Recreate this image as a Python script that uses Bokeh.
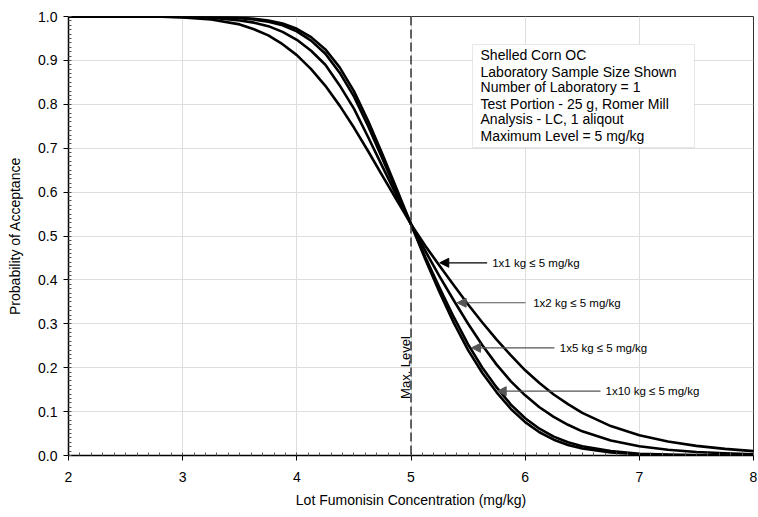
from bokeh.plotting import figure
from bokeh.models import (FixedTicker, Span, Label, BoxAnnotation, Arrow, NormalHead,
                          CustomJSTickFormatter)
from bokeh.embed import file_html
from bokeh.resources import INLINE
import math

# ---- data ----
lot_conc = [2.0, 2.5, 2.75, 3.0, 3.25, 3.5, 3.625, 3.75, 3.875, 4.0, 4.125, 4.25,
            4.375, 4.5, 4.625, 4.75, 4.875, 5.0, 5.125, 5.25, 5.375, 5.5, 5.625,
            5.75, 5.875, 6.0, 6.125, 6.25, 6.375, 6.5, 6.75, 7.0, 7.25, 7.5, 7.75, 8.0]
pa_1x1 = [1.0, 1.0, 1.0, 0.998, 0.993, 0.982, 0.971, 0.957, 0.937, 0.912, 0.880, 0.842,
          0.797, 0.747, 0.693, 0.637, 0.582, 0.527, 0.478, 0.432, 0.388, 0.344, 0.303,
          0.264, 0.228, 0.194, 0.165, 0.139, 0.117, 0.097, 0.067, 0.046, 0.032, 0.022,
          0.015, 0.010]
pa_1x2 = [1.0, 1.0, 1.0, 0.999, 0.997, 0.991, 0.986, 0.978, 0.965, 0.947, 0.922, 0.890,
          0.843, 0.790, 0.725, 0.658, 0.592, 0.527, 0.466, 0.408, 0.353, 0.300, 0.251,
          0.207, 0.169, 0.137, 0.110, 0.088, 0.070, 0.055, 0.034, 0.021, 0.013, 0.008,
          0.005, 0.003]
pa_1x5 = [1.0, 1.0, 1.0, 1.0, 0.999, 0.996, 0.993, 0.988, 0.980, 0.966, 0.945, 0.915,
          0.872, 0.818, 0.750, 0.676, 0.601, 0.527, 0.452, 0.382, 0.315, 0.253, 0.200,
          0.155, 0.116, 0.085, 0.061, 0.043, 0.030, 0.021, 0.010, 0.004, 0.002, 0.001,
          0.0, 0.0]
pa_1x10 = [1.0, 1.0, 1.0, 1.0, 1.0, 0.997, 0.995, 0.991, 0.984, 0.972, 0.953, 0.925,
           0.884, 0.830, 0.762, 0.686, 0.607, 0.527, 0.447, 0.372, 0.302, 0.240, 0.188,
           0.144, 0.106, 0.076, 0.053, 0.036, 0.024, 0.016, 0.007, 0.003, 0.001, 0.0005,
           0.0, 0.0]

x_ticks = [2, 3, 4, 5, 6, 7, 8]
y_ticks = [0.0, 0.1, 0.2, 0.3, 0.4, 0.5, 0.6, 0.7, 0.8, 0.9, 1.0]
max_level = 5

curve_labels = ["1x1 kg \u2264 5 mg/kg", "1x2 kg \u2264 5 mg/kg",
                "1x5 kg \u2264 5 mg/kg", "1x10 kg \u2264 5 mg/kg"]
info_lines = ["Shelled Corn OC", "Laboratory Sample Size Shown",
              "Number of Laboratory = 1", "Test Portion - 25 g, Romer Mill",
              "Analysis - LC, 1 aliqout", "Maximum Level = 5 mg/kg"]

# ---- annotation placement (styling) ----
arrow_tip_x = [5.252, 5.404, 5.530, 5.755]
arrow_tail_x = [5.667, 6.003, 6.257, 6.660]
arrow_y = [0.439, 0.348, 0.2453, 0.1465]
label_x = [5.711, 6.070, 6.303, 6.704]
arrow_colors = ["black", "#555555", "#555555", "#555555"]

FONT = "Liberation Sans"

p = figure(width=758, height=517, x_range=(2, 8), y_range=(0, 1),
           output_backend="svg", toolbar_location=None,
           min_border_left=68, min_border_right=5, min_border_top=16,
           min_border_bottom=62)

p.background_fill_color = "white"
p.border_fill_color = "white"
p.outline_line_color = "#333333"
p.outline_line_width = 1

# grid
p.xgrid.grid_line_color = "#dedede"
p.ygrid.grid_line_color = "#dedede"
p.xgrid.ticker = FixedTicker(ticks=x_ticks)
p.ygrid.ticker = FixedTicker(ticks=y_ticks)

# axes
xminor = [2 + i * 0.1 for i in range(61)]
yminor = [i * 0.01 for i in range(101)]
p.xaxis.ticker = FixedTicker(ticks=x_ticks, minor_ticks=xminor)
p.yaxis.ticker = FixedTicker(ticks=y_ticks, minor_ticks=yminor)
p.yaxis.formatter = CustomJSTickFormatter(code="return tick.toFixed(1);")

for ax in (p.xaxis, p.yaxis):
    ax.axis_line_color = "black"
    ax.axis_line_width = 1.5
    ax.major_tick_in = 0
    ax.major_tick_out = 5
    ax.major_tick_line_color = "black"
    ax.minor_tick_in = 3
    ax.minor_tick_out = 0
    ax.minor_tick_line_color = "#555555"
    ax.major_label_text_font = FONT
    ax.major_label_text_font_size = "14px"
    ax.major_label_text_color = "black"
    ax.axis_label_text_font = FONT
    ax.axis_label_text_font_size = "14px"
    ax.axis_label_text_font_style = "normal"
    ax.axis_label_text_color = "black"

p.xaxis.axis_label = "Lot Fumonisin Concentration (mg/kg)"
p.yaxis.axis_label = "Probability of Acceptance"
p.xaxis.major_label_standoff = 11
p.xaxis.axis_label_standoff = 7
p.yaxis.major_label_standoff = 6
p.yaxis.axis_label_standoff = 12

# max level line
p.add_layout(Span(location=max_level, dimension="height", line_color="#333333",
                  line_width=1.5, line_dash="9 4"))

# curves
for ys in (pa_1x1, pa_1x2, pa_1x5, pa_1x10):
    p.line(lot_conc, ys, line_color="black", line_width=2.6, line_join="round")

# arrows + labels
for i in range(4):
    p.add_layout(Arrow(end=NormalHead(size=9, fill_color=arrow_colors[i],
                                      line_color=arrow_colors[i]),
                       x_start=arrow_tail_x[i], y_start=arrow_y[i],
                       x_end=arrow_tip_x[i], y_end=arrow_y[i],
                       line_color=arrow_colors[i], line_width=1.2))
    p.add_layout(Label(x=label_x[i], y=arrow_y[i], text=curve_labels[i],
                       text_font=FONT, text_font_size="11.5px",
                       text_baseline="middle", text_align="left",
                       text_color="black"))

# Max. Level vertical label
p.add_layout(Label(x=4.952, y=0.2005, text="Max. Level", angle=math.pi / 2,
                   text_font=FONT, text_font_size="13px", text_align="center",
                   text_baseline="middle", text_color="black"))

# info box
p.add_layout(BoxAnnotation(left=5.539, right=7.483, top=0.9362, bottom=0.7016,
                           fill_color="white", fill_alpha=1.0,
                           line_color="#b0b0b0", line_width=1))
info_y = [0.9112, 0.8747, 0.8383, 0.8018, 0.7654, 0.7289]
for t, yy in zip(info_lines, info_y):
    p.add_layout(Label(x=5.609, y=yy, text=t, text_font=FONT,
                       text_font_size="14px", text_baseline="middle",
                       text_align="left", text_color="black"))

open("out.html", "w").write(file_html(p, INLINE))
